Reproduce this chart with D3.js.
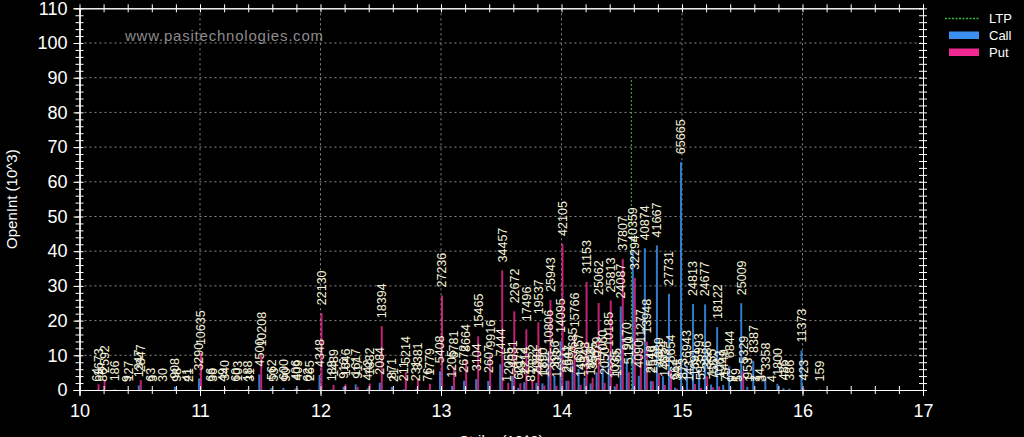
<!DOCTYPE html>
<html><head><meta charset="utf-8">
<script src="https://cdn.jsdelivr.net/npm/d3@7"></script>
<style>
html,body{margin:0;padding:0;background:#000;}
svg{display:block;}
text{font-family:"Liberation Sans",Arial,sans-serif;}
</style></head>
<body>
<script>
const strikes = [10.15,10.2,10.3,10.4,10.5,10.6,10.7,10.8,10.9,11.0,11.1,11.2,11.3,11.4,11.5,11.6,11.7,11.8,11.9,12.0,12.1,12.2,12.3,12.4,12.5,12.6,12.7,12.8,12.9,13.0,13.1,13.2,13.3,13.4,13.5,13.55,13.6,13.65,13.7,13.75,13.8,13.85,13.9,13.95,14.0,14.05,14.1,14.15,14.2,14.25,14.3,14.35,14.4,14.45,14.5,14.55,14.6,14.65,14.7,14.75,14.8,14.85,14.9,14.95,15.0,15.05,15.1,15.15,15.2,15.25,15.3,15.35,15.4,15.45,15.5,15.55,15.6,15.65,15.7,15.75,15.8,15.85,15.9,16.0,16.15];
const callOI = [64,86,186,9,1347,63,30,908,41,3290,66,49,60,188,4500,562,600,406,62,4348,183,916,1617,442,2084,871,211,231,76,5408,1205,2672,3104,2607,7444,1,4031,621,2214,81,2081,1890,10806,3956,14095,2641,7685,6057,3548,1898,5079,7060,10185,1035,24087,9170,40359,4090,40874,2548,41667,3954,27731,664,65665,6943,24813,5993,24677,1555,18122,1449,6844,19,25009,953,8387,34,3358,4,1800,486,386,11373,159];
const putOI = [1673,2592,0,127,2847,3,0,98,21,10635,36,340,103,31,10208,53,90,409,265,22130,1489,1646,917,1882,18394,21,5214,3381,1779,27236,6781,8664,15465,9916,34457,2055,22672,1972,17496,2822,19537,1311,25943,1203,42105,2687,15766,1457,31153,3545,25062,2050,25813,1765,37807,5120,32294,11277,13948,2519,4889,1463,5654,341,873,143,1691,593,3886,755,1063,75,9,5,5329,1,7,3,0,0,0,0,0,423,0];
const ltpStrike = 14.58;
const ltpLevel = 90;
const xTicks = [10,11,12,13,14,15,16,17];
const yTicks = [0,10,20,30,40,50,60,70,80,90,100,110];
const seriesNames = ["LTP","Call","Put"];

const W = 1024, H = 437;
const L = 79.5, R = 923, T = 8.3, B = 390;
const colCall = "#3d8ff0", colPut = "#f02a92", colLTP = "#2fbf3a";

const svg = d3.select("body").append("svg").attr("width", W).attr("height", H);
svg.append("rect").attr("width", W).attr("height", H).attr("fill", "#000");

const x = d3.scaleLinear().domain([10,17]).range([L,R]);
const y = d3.scaleLinear().domain([0,110]).range([B,T]);

// grid
const grid = svg.append("g");
grid.selectAll("line.gy").data(yTicks.filter(v=>v>0 && v<110)).join("line")
  .attr("x1", L).attr("x2", R).attr("y1", d=>y(d)).attr("y2", d=>y(d))
  .attr("stroke", "#8a8a8a").attr("stroke-width", 1).attr("stroke-dasharray", "2,3");
grid.selectAll("line.gx").data(xTicks.filter(v=>v>10 && v<17)).join("line")
  .attr("x1", d=>x(d)).attr("x2", d=>x(d)).attr("y1", T).attr("y2", B)
  .attr("stroke", "#8a8a8a").attr("stroke-width", 1).attr("stroke-dasharray", "2,3");

// watermark
svg.append("text").attr("x", 125).attr("y", 41).attr("fill", "#8c8c8c")
  .attr("font-size", 15).attr("textLength", 198).text("www.pasitechnologies.com");

// data
const rows = strikes.map((s,i)=>({s, c: callOI[i], p: putOI[i]}));

const bars = svg.append("g");
bars.selectAll("rect.call").data(rows.filter(d=>d.c>0)).join("rect")
  .attr("x", d=>x(d.s)-2).attr("width", 2)
  .attr("y", d=>y(d.c/1000)).attr("height", d=>Math.max(0.5, B - y(d.c/1000)))
  .attr("fill", colCall).attr("opacity", 0.85);
bars.selectAll("rect.put").data(rows.filter(d=>d.p>0)).join("rect")
  .attr("x", d=>x(d.s)).attr("width", 2)
  .attr("y", d=>y(d.p/1000)).attr("height", d=>Math.max(0.5, B - y(d.p/1000)))
  .attr("fill", colPut).attr("opacity", 0.8);

// LTP line
svg.append("line").attr("x1", x(ltpStrike)).attr("x2", x(ltpStrike))
  .attr("y1", y(0)).attr("y2", y(ltpLevel))
  .attr("stroke", colLTP).attr("stroke-width", 1).attr("stroke-dasharray", "2,2");

// labels
const lab = svg.append("g").attr("fill", "#f4f2dc").attr("font-size", 12.5);
const labelRows = [];
rows.forEach(d=>{
  if (d.c>0) labelRows.push({xp: x(d.s)-1, v: d.c});
  if (d.p>0) labelRows.push({xp: x(d.s)+1, v: d.p});
});
lab.selectAll("text").data(labelRows).join("text")
  .attr("transform", d=>`translate(${d.xp},${y(d.v/1000)-8}) rotate(-90)`)
  .attr("text-anchor", "start").attr("dy", "0.35em")
  .text(d=>d.v);

// axes
function styleAxis(g){
  g.selectAll("path,line").attr("stroke", "#fff").attr("stroke-width", 1);
  g.selectAll("text").attr("fill", "#fff").attr("font-size", 18)
    .attr("font-family", "'Liberation Sans',Arial,sans-serif");
}
const xMinor = d3.range(10, 17.001, 0.2);
const yMinor = d3.range(0, 110.001, 2);

// bottom
svg.append("g").attr("transform", `translate(0,${B})`)
  .call(d3.axisBottom(x).tickValues(xTicks).tickFormat(d3.format("d")).tickSize(6).tickPadding(8))
  .call(styleAxis);
svg.append("g").attr("transform", `translate(0,${B})`)
  .call(d3.axisBottom(x).tickValues(xMinor).tickFormat("").tickSize(4).tickSizeOuter(0))
  .call(styleAxis);
svg.append("g").attr("transform", `translate(0,${B})`)
  .call(d3.axisTop(x).tickValues(xMinor).tickFormat("").tickSize(4).tickSizeOuter(0))
  .call(styleAxis);
// top
svg.append("g").attr("transform", `translate(0,${T})`)
  .call(d3.axisTop(x).tickValues(xMinor).tickFormat("").tickSize(4).tickSizeOuter(0))
  .call(styleAxis);
svg.append("g").attr("transform", `translate(0,${T})`)
  .call(d3.axisBottom(x).tickValues(xMinor).tickFormat("").tickSize(4).tickSizeOuter(0))
  .call(styleAxis);
// left
svg.append("g").attr("transform", `translate(${L},0)`)
  .call(d3.axisLeft(y).tickValues(yTicks).tickFormat(d3.format("d")).tickSize(6).tickPadding(6))
  .call(styleAxis);
svg.append("g").attr("transform", `translate(${L},0)`)
  .call(d3.axisLeft(y).tickValues(yMinor).tickFormat("").tickSize(4).tickSizeOuter(0))
  .call(styleAxis);
svg.append("g").attr("transform", `translate(${L},0)`)
  .call(d3.axisRight(y).tickValues(yMinor).tickFormat("").tickSize(4).tickSizeOuter(0))
  .call(styleAxis);
// right
svg.append("g").attr("transform", `translate(${R},0)`)
  .call(d3.axisRight(y).tickValues(yMinor).tickFormat("").tickSize(4).tickSizeOuter(0))
  .call(styleAxis);
svg.append("g").attr("transform", `translate(${R},0)`)
  .call(d3.axisLeft(y).tickValues(yMinor).tickFormat("").tickSize(4).tickSizeOuter(0))
  .call(styleAxis);

// axis titles
svg.append("text").attr("transform", `translate(17,${(T+B)/2}) rotate(-90)`)
  .attr("text-anchor", "middle").attr("fill", "#fff").attr("font-size", 15)
  .text("OpenInt (10^3)");
svg.append("text").attr("x", (L+R)/2).attr("y", 446)
  .attr("text-anchor", "middle").attr("fill", "#fff").attr("font-size", 15)
  .text("Strike (10^3)");

// legend
const lg = svg.append("g");
lg.append("line").attr("x1", 945).attr("x2", 980).attr("y1", 18.5).attr("y2", 18.5)
  .attr("stroke", colLTP).attr("stroke-width", 1.5).attr("stroke-dasharray", "2,1.5");
lg.append("rect").attr("x", 949).attr("y", 31.5).attr("width", 30).attr("height", 7.5).attr("fill", colCall);
lg.append("rect").attr("x", 949).attr("y", 48.5).attr("width", 30).attr("height", 7.5).attr("fill", colPut);
lg.selectAll("text").data(seriesNames).join("text")
  .attr("x", 989).attr("y", (d,i)=>[18.5,35.5,52.5][i]).attr("dy", "0.35em")
  .attr("fill", "#fff").attr("font-size", 13).text(d=>d);
</script>
</body></html>
